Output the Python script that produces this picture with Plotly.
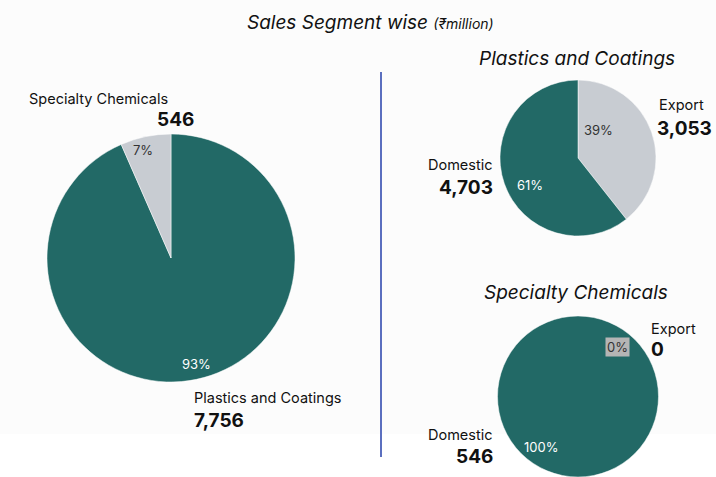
import plotly.graph_objects as go

W, H = 716, 477

# segment split (₹million)
seg_labels = ['Plastics and Coatings', 'Specialty Chemicals']
seg_values = [7756, 546]

# plastics and coatings: export vs domestic
pc_labels = ['Export', 'Domestic']
pc_values = [3053, 4703]

# specialty chemicals: export vs domestic
sc_labels = ['Export', 'Domestic']
sc_values = [0, 546]

TEAL = '#226966'
GREY = '#c8ccd2'
FONT = 'Inter, Lato, sans-serif'


def px(x):
    return x / W


def py(y):
    return 1 - y / H


def pct(vals, i):
    return '{:.0f}%'.format(100 * vals[i] / sum(vals))


def pie(labels, values, x0, x1, y0, y1, colors):
    return go.Pie(
        labels=labels,
        values=values,
        sort=False,
        direction='clockwise',
        rotation=0,
        marker=dict(colors=colors, line=dict(color='white', width=0.5)),
        textinfo='none',
        showlegend=False,
        domain=dict(x=[px(x0), px(x1)], y=[py(y1), py(y0)]))


fig = go.Figure()
fig.add_trace(pie(seg_labels, seg_values, 47, 295, 134, 382, [TEAL, GREY]))
fig.add_trace(pie(pc_labels, pc_values, 500, 656, 80, 236, [GREY, TEAL]))
fig.add_trace(pie(sc_labels, sc_values, 497, 659, 316, 477, [GREY, TEAL]))

ann = []


def text(x, y, s, size=14, color='#111', anchor='center', bold=False, italic=False, bg=None):
    if bold:
        s = '<b>' + s + '</b>'
    if italic:
        s = '<i>' + s + '</i>'
    d = dict(x=px(x), y=py(y), xref='paper', yref='paper', text=s, showarrow=False,
             xanchor=anchor, yanchor='middle',
             font=dict(family=FONT, size=size, color=color))
    if bg:
        d.update(bgcolor=bg, borderpad=1)
    ann.append(d)


# title
text(370, 22, "Sales Segment wise <span style='font-size:14px'>(₹million)</span>", size=19, italic=True)

# left pie labels
text(98, 98, seg_labels[1], size=14.5)
text(196, 120, '{:,}'.format(seg_values[1]), size=19, anchor='right', bold=True)
text(143, 150, pct(seg_values, 1), size=13, color='#333')
text(196, 364, pct(seg_values, 0), size=13, color='white')
text(192, 398, seg_labels[0], size=14.5, anchor='left')
text(192, 420, '{:,}'.format(seg_values[0]), size=19, anchor='left', bold=True)

# plastics and coatings
text(577, 58, 'Plastics and Coatings', size=19, italic=True)
text(657, 105, pc_labels[0], size=14.5, anchor='left')
text(655, 128, '{:,}'.format(pc_values[0]), size=19, anchor='left', bold=True)
text(598, 130, pct(pc_values, 0), size=13, color='#333')
text(495, 165, pc_labels[1], size=14.5, anchor='right')
text(495, 187, '{:,}'.format(pc_values[1]), size=19, anchor='right', bold=True)
text(530, 185, pct(pc_values, 1), size=13, color='white')

# specialty chemicals
text(576, 292, 'Specialty Chemicals', size=19, italic=True)
text(649, 328, sc_labels[0], size=14.5, anchor='left')
text(649, 349, '{:,}'.format(sc_values[0]), size=19, anchor='left', bold=True)
text(617, 347, pct(sc_values, 0), size=13, color='#333', bg='#b5b5b5')
text(495, 434, sc_labels[1], size=14.5, anchor='right')
text(495, 456, '{:,}'.format(sc_values[1]), size=19, anchor='right', bold=True)
text(541, 447, pct(sc_values, 1), size=13, color='white')

fig.update_layout(
    width=W, height=H,
    margin=dict(l=0, r=0, t=0, b=0),
    paper_bgcolor='white',
    plot_bgcolor='white',
    annotations=ann,
    shapes=[
        dict(type='rect', xref='paper', yref='paper', x0=0, x1=1, y0=py(434), y1=1,
             fillcolor='#fcfcfc', line=dict(width=0), layer='below'),
        dict(type='line', xref='paper', yref='paper', x0=px(381), x1=px(381), y0=py(457), y1=py(72),
             line=dict(color='#5b6fbf', width=2)),
    ])

fig.write_html('out.html', config={'displayModeBar': False},
               post_script="document.body.style.margin='0';")
